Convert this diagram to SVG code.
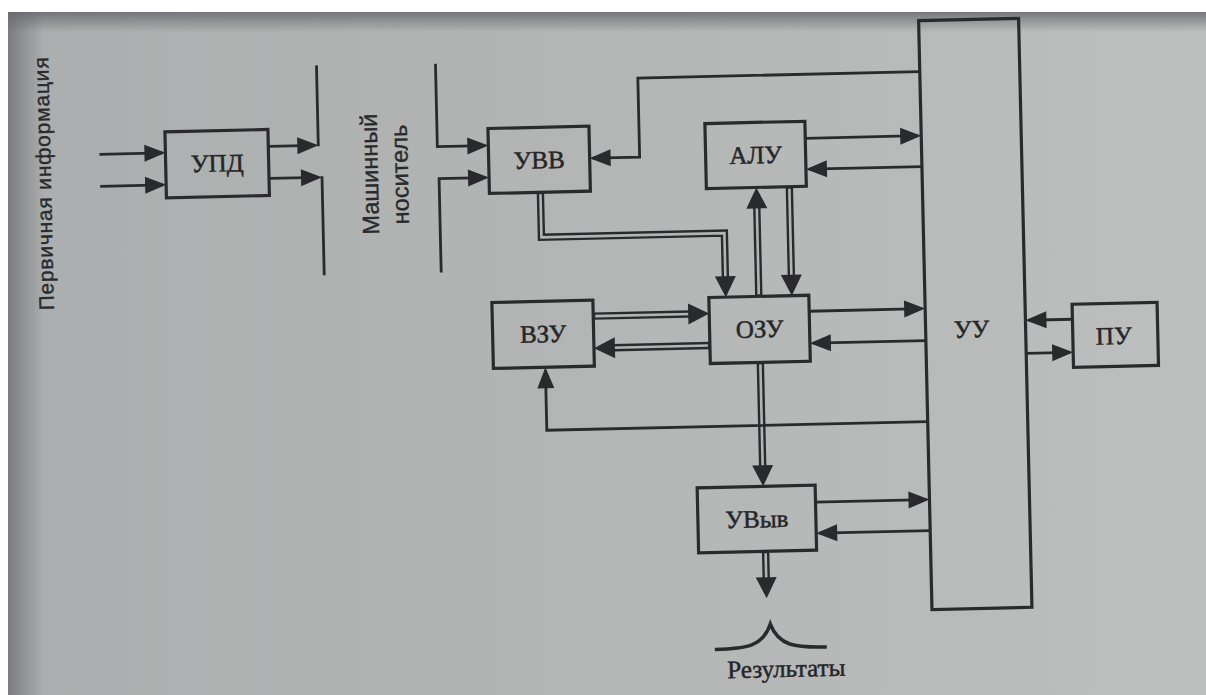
<svg xmlns="http://www.w3.org/2000/svg" xmlns:xlink="http://www.w3.org/1999/xlink" width="1206" height="695" viewBox="0 0 1206 695">
<defs>
<style>
.box{fill:none;stroke:#2a2a2c;stroke-width:3.2}
.ln{fill:none;stroke:#2a2a2c;stroke-width:2.8;stroke-linejoin:miter}
.dbl{fill:none;stroke:#2a2a2c;stroke-width:7.4;stroke-linejoin:miter}
.gap{fill:none;stroke:#b3b5b4;stroke-width:2.6;stroke-linejoin:miter}
.lbl{font-family:"Liberation Serif","Times New Roman",serif;font-size:25px;fill:#262628;stroke:#262628;stroke-width:0.5;text-anchor:middle}
.cap{font-family:"Liberation Sans",Arial,sans-serif;fill:#2a2a2c;stroke:#2a2a2c;stroke-width:0.35;text-anchor:middle}
.ah{fill:#2a2a2c}
</style>
<path id="as" d="M0,0 L-21,-8.5 L-21,8.5 z"/>
<path id="ad" d="M0,0 L-21,-10.5 L-21,10.5 z"/>
<linearGradient id="pg" x1="0" y1="0" x2="1" y2="0">
<stop offset="0" stop-color="#abaeae"/>
<stop offset="0.5" stop-color="#b4b6b5"/>
<stop offset="1" stop-color="#bdbfbe"/>
</linearGradient>
<linearGradient id="sl" x1="0" y1="0" x2="1" y2="0">
<stop offset="0" stop-color="#6f6f75" stop-opacity="0.8"/>
<stop offset="1" stop-color="#6f6f75" stop-opacity="0"/>
</linearGradient>
<linearGradient id="st" x1="0" y1="0" x2="0" y2="1">
<stop offset="0" stop-color="#66666c" stop-opacity="0.8"/>
<stop offset="1" stop-color="#66666c" stop-opacity="0"/>
</linearGradient>
</defs>
<rect width="1206" height="695" fill="#ffffff"/>
<rect x="8" y="12" width="1198" height="683" fill="url(#pg)"/>
<rect x="8" y="12" width="36" height="683" fill="url(#sl)"/>
<rect x="8" y="12" width="1198" height="20" fill="url(#st)"/>
<g transform="rotate(-1.3 600 350)">
<g id="captions">
<text class="cap" font-size="21" letter-spacing="0.8" transform="rotate(-90 55 171)" x="55" y="171">Первичная информация</text>
<text class="cap" font-size="23.5" transform="rotate(-90 382 169)" x="382" y="169">Машинный</text>
<text class="cap" font-size="23.5" transform="rotate(-90 412 170)" x="412" y="170">носитель</text>
</g>
<g id="connectors">
<g id="doubles">
<path class="dbl" d="M544 191 V236 H727 V291"/>
<path class="gap" d="M544 193 V236 H727 V281"/>
<path class="dbl" d="M760 300 V200"/>
<path class="gap" d="M760 298 V210"/>
<path class="dbl" d="M793 191 V291"/>
<path class="gap" d="M793 193 V281"/>
<path class="dbl" d="M594 316 H701"/>
<path class="gap" d="M596 316 H691"/>
<path class="dbl" d="M710 348 H603"/>
<path class="gap" d="M708 348 H613"/>
<path class="dbl" d="M760 366 V481"/>
<path class="gap" d="M760 368 V471"/>
<path class="dbl" d="M761 555 V593"/>
<path class="gap" d="M761 557 V583"/>
<use xlink:href="#ad" class="ah" transform="translate(727 300) rotate(90)"/>
<use xlink:href="#ad" class="ah" transform="translate(760 191) rotate(-90)"/>
<use xlink:href="#ad" class="ah" transform="translate(793 300) rotate(90)"/>
<use xlink:href="#ad" class="ah" transform="translate(710 316)"/>
<use xlink:href="#ad" class="ah" transform="translate(594 348) rotate(180)"/>
<use xlink:href="#ad" class="ah" transform="translate(760 490) rotate(90)"/>
<use xlink:href="#ad" class="ah" transform="translate(761 602) rotate(90)"/>
</g>
<g id="singles">
<path class="ln" d="M104 143 H167"/>
<path class="ln" d="M104 175 H167"/>
<path class="ln" d="M273 139 H320"/>
<path class="ln" d="M273 171 H323"/>
<path class="ln" d="M323 59 V140"/>
<path class="ln" d="M326 170 V269"/>
<path class="ln" d="M442 60 V143 H490"/>
<path class="ln" d="M443 269 V175 H490"/>
<path class="ln" d="M926 79 H644 V158 H597"/>
<path class="ln" d="M810 143 H923"/>
<path class="ln" d="M926 174 H813"/>
<path class="ln" d="M810 316 H923"/>
<path class="ln" d="M926 348 H813"/>
<path class="ln" d="M926 429 H545 V369"/>
<path class="ln" d="M812 507 H923"/>
<path class="ln" d="M926 538 H815"/>
<path class="ln" d="M1073 330 H1029"/>
<path class="ln" d="M1026 363 H1070"/>
<use xlink:href="#as" class="ah" transform="translate(170 143)"/>
<use xlink:href="#as" class="ah" transform="translate(170 175)"/>
<use xlink:href="#as" class="ah" transform="translate(323 139)"/>
<use xlink:href="#as" class="ah" transform="translate(326 171)"/>
<use xlink:href="#as" class="ah" transform="translate(493 143)"/>
<use xlink:href="#as" class="ah" transform="translate(493 175)"/>
<use xlink:href="#as" class="ah" transform="translate(594 158) rotate(180)"/>
<use xlink:href="#as" class="ah" transform="translate(926 143)"/>
<use xlink:href="#as" class="ah" transform="translate(810 174) rotate(180)"/>
<use xlink:href="#as" class="ah" transform="translate(926 316)"/>
<use xlink:href="#as" class="ah" transform="translate(810 348) rotate(180)"/>
<use xlink:href="#as" class="ah" transform="translate(545 366) rotate(-90)"/>
<use xlink:href="#as" class="ah" transform="translate(926 507)"/>
<use xlink:href="#as" class="ah" transform="translate(812 538) rotate(180)"/>
<use xlink:href="#as" class="ah" transform="translate(1026 330) rotate(180)"/>
<use xlink:href="#as" class="ah" transform="translate(1073 363)"/>
</g>
</g>
<g id="upd"><rect class="box" x="170" y="122" width="103" height="66"/><text class="lbl" x="221.5" y="163">УПД</text></g>
<g id="uvv"><rect class="box" x="493" y="126" width="101" height="65"/><text class="lbl" x="543.5" y="167">УВВ</text></g>
<g id="alu"><rect class="box" x="710" y="126" width="100" height="65"/><text class="lbl" x="760" y="167">АЛУ</text></g>
<g id="vzu"><rect class="box" x="493" y="300" width="101" height="66"/><text class="lbl" x="543.5" y="341">ВЗУ</text></g>
<g id="ozu"><rect class="box" x="710" y="300" width="100" height="66"/><text class="lbl" x="760" y="341">ОЗУ</text></g>
<g id="uvyv"><rect class="box" x="694" y="490" width="118" height="65"/><text class="lbl" x="753" y="531">УВыв</text></g>
<g id="uu"><rect class="box" x="926" y="28" width="100" height="589"/><text class="lbl" x="972" y="346">УУ</text></g>
<g id="pu"><rect class="box" x="1073" y="315" width="85" height="63"/><text class="lbl" x="1114" y="356">ПУ</text></g>
<g id="results">
<path d="M708 652 C740 652 756 650 764 628 C772 650 788 652 820 652" fill="none" stroke="#2a2a2c" stroke-width="3.6"/>
<text class="lbl" font-size="23" x="779" y="681">Результаты</text>
</g>
</g>
</svg>
